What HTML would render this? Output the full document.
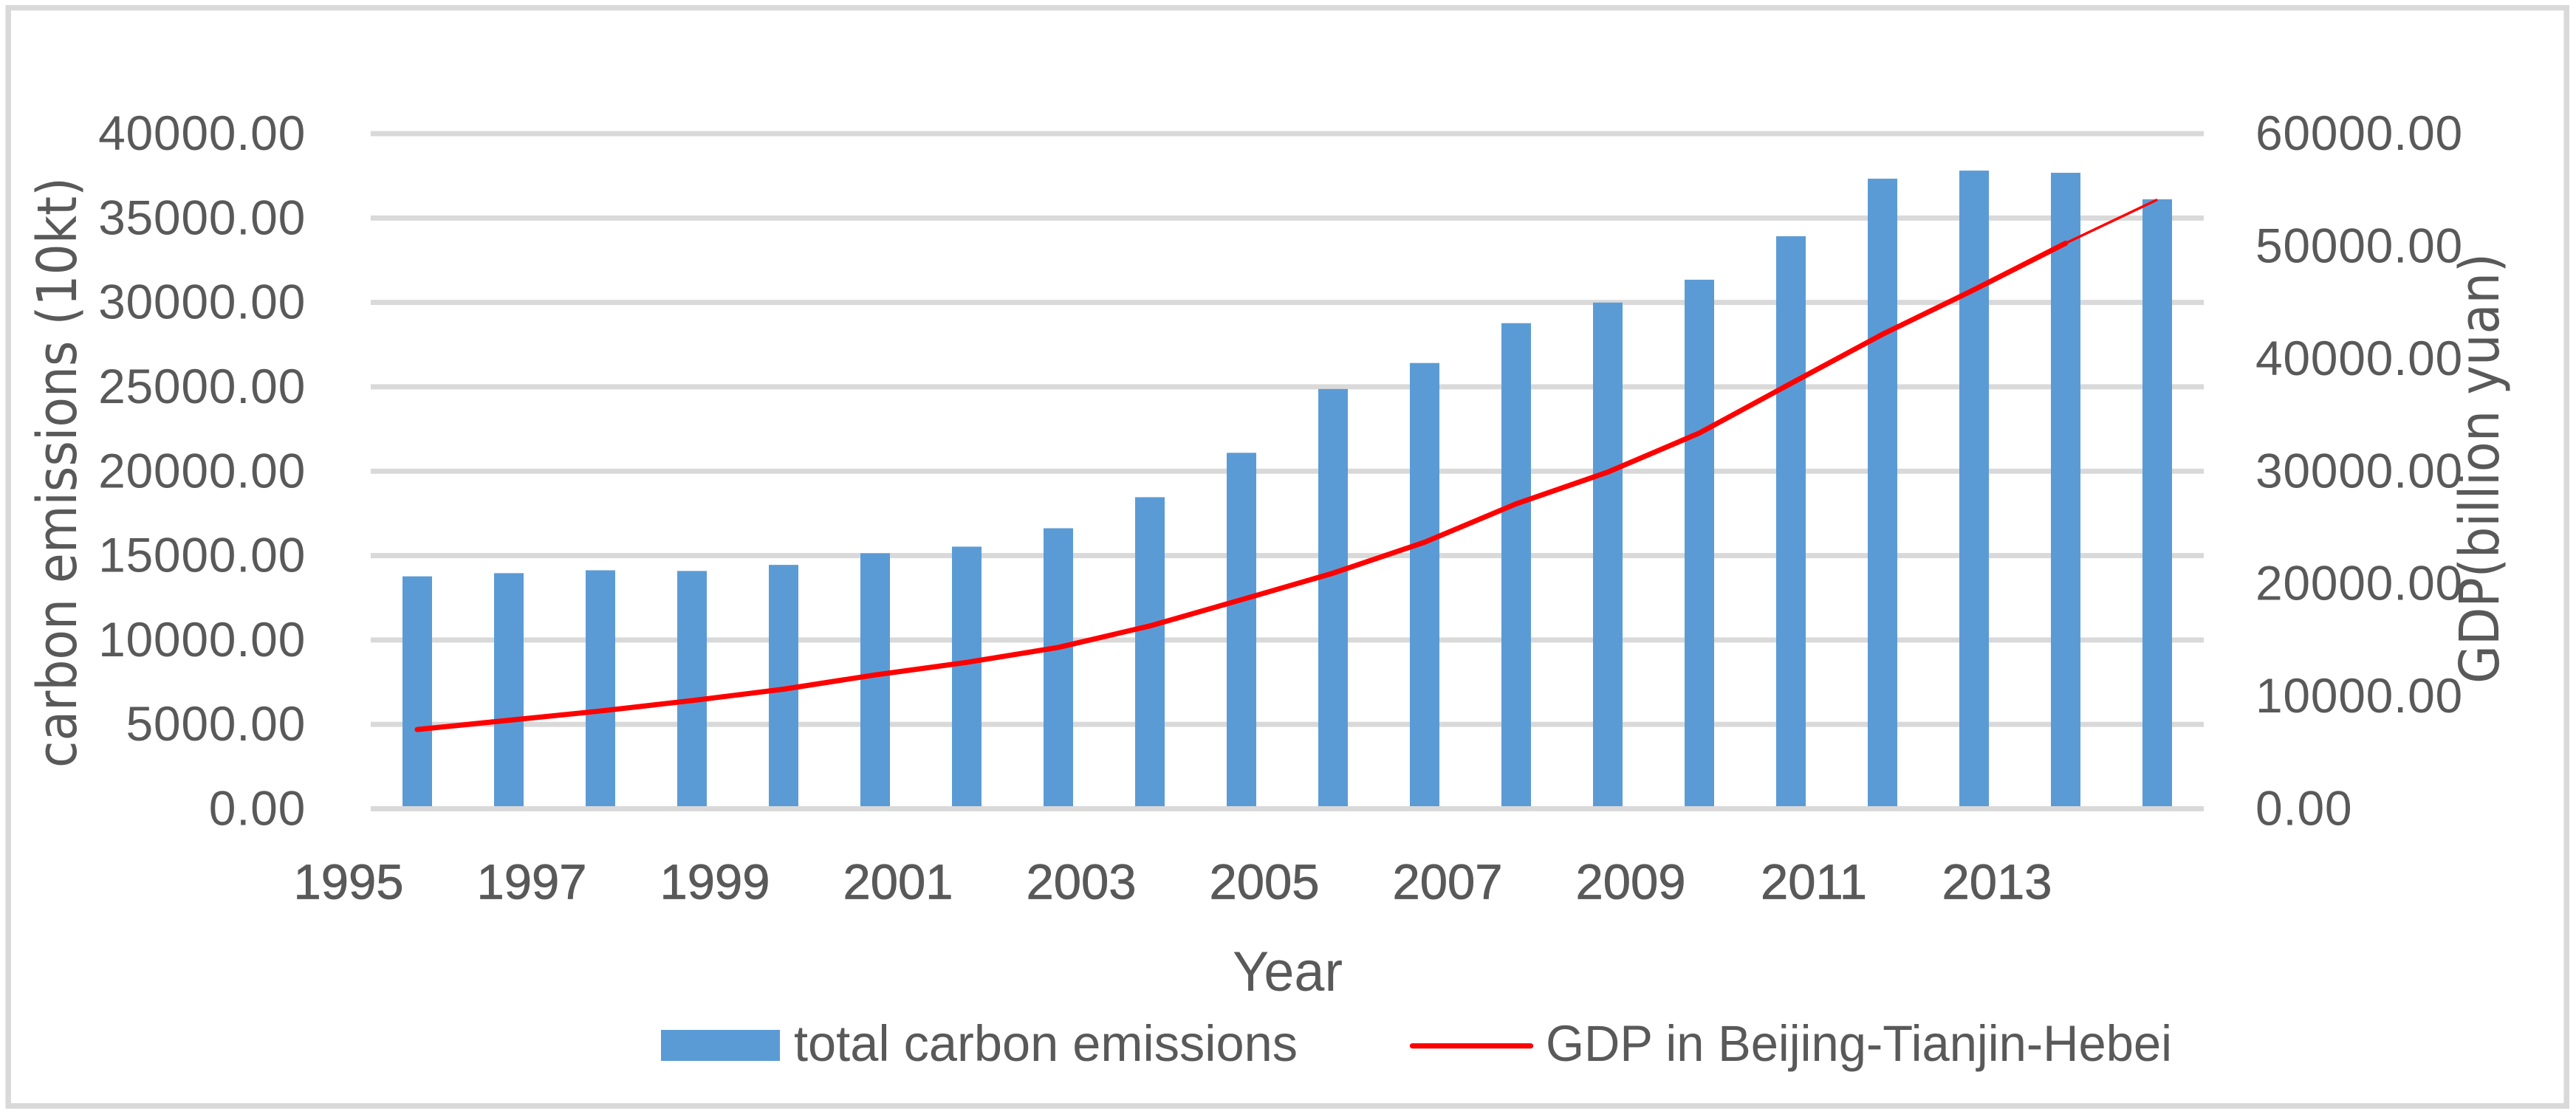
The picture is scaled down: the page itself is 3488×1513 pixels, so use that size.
<!DOCTYPE html>
<html lang="en">
<head>
<meta charset="utf-8">
<title>Carbon emissions and GDP in Beijing-Tianjin-Hebei</title>
<style>
html,body{margin:0;padding:0;background:#fff;width:3488px;height:1513px;overflow:hidden}
svg{display:block}
text{font-family:"Liberation Sans",sans-serif;fill:#595959}
</style>
</head>
<body>
<svg id="chart" xmlns="http://www.w3.org/2000/svg" width="3488" height="1513" viewBox="0 0 3488 1513">
  <rect x="11.2" y="10.5" width="3464" height="1487.5" fill="#fff" stroke="#D9D9D9" stroke-width="7.5"/>
  <g id="grid"></g>
  <g id="bars"></g>
  <g id="baseline-layer"></g>
  <g id="line-layer"></g>
  <g id="left-ticks"></g>
  <g id="right-ticks"></g>
  <g id="x-ticks"></g>
  <text transform="translate(103,1040) rotate(-90)" font-size="74" textLength="800" lengthAdjust="spacingAndGlyphs" style="font-family:'DejaVu Sans',sans-serif">carbon emissions (10kt)</text>
  <text transform="translate(3383,926) rotate(-90)" font-size="74" textLength="583" lengthAdjust="spacingAndGlyphs" style="font-family:'DejaVu Sans',sans-serif">GDP(billion yuan)</text>
  <text x="1669" y="1342" font-size="76" textLength="149" lengthAdjust="spacingAndGlyphs">Year</text>
  <g>
    <rect x="895" y="1395" width="161" height="42" fill="#5B9BD5"/>
    <text x="1075" y="1437" font-size="69" textLength="682" lengthAdjust="spacingAndGlyphs">total carbon emissions</text>
    <line x1="1912.5" y1="1416.7" x2="2072.5" y2="1416.7" stroke="#FF0000" stroke-width="7.2" stroke-linecap="round"/>
    <text x="2093" y="1437" font-size="69" textLength="848" lengthAdjust="spacingAndGlyphs">GDP in Beijing-Tianjin-Hebei</text>
  </g>
</svg>
<script>
const years = [1995,1996,1997,1998,1999,2000,2001,2002,2003,2004,2005,2006,2007,2008,2009,2010,2011,2012,2013,2014];
const emissions = [13770,13960,14130,14090,14450,15140,15530,16620,18460,21090,24870,26410,28770,29990,31345,33920,37330,37810,37680,36110];
const gdp = [7045,7865,8690,9615,10630,11895,13010,14340,16250,18580,20940,23690,27100,29920,33390,37800,42170,46130,50260,54130];
const leftTicks = [0,5000,10000,15000,20000,25000,30000,35000,40000];
const rightTicks = [0,10000,20000,30000,40000,50000,60000];
const xTickYears = [1995,1997,1999,2001,2003,2005,2007,2009,2011,2013];

const NS = 'http://www.w3.org/2000/svg';
const plotLeft = 503, plotRight = 2983, plotTop = 181, plotBottom = 1095.5;
const leftMax = 40000, rightMax = 60000, barWidth = 40, tickShift = 93;

const xBand = (plotRight - plotLeft) / years.length;
function xAt(i) { return plotLeft + xBand * (i + 0.5); }
function yLeft(v) { return plotBottom - (v / leftMax) * (plotBottom - plotTop); }
function yRight(v) { return plotBottom - (v / rightMax) * (plotBottom - plotTop); }
function make(tag, attrs, parent) {
  const el = document.createElementNS(NS, tag);
  for (const k in attrs) el.setAttribute(k, attrs[k]);
  parent.appendChild(el);
  return el;
}

const gridG = document.getElementById('grid');
leftTicks.forEach(function (t) {
  const parent = t === 0 ? document.getElementById('baseline-layer') : gridG;
  const g = make('rect', {x: plotLeft - 1, y: yLeft(t) - 3.5, width: plotRight - plotLeft + 2, height: 7, fill: '#D9D9D9'}, parent);
  
  
});

const barsG = document.getElementById('bars');
emissions.forEach(function (v, i) {
  const y = yLeft(v);
  const b = make('rect', {x: xAt(i) - barWidth / 2, y: y, width: barWidth, height: plotBottom - y, fill: '#5B9BD5'}, barsG);
  
  
});

const lineG = document.getElementById('line-layer');
const thickPts = gdp.slice(0, gdp.length - 1).map(function (v, i) { return xAt(i) + ',' + yRight(v); }).join(' ');
const thick = make('polyline', {points: thickPts, fill: 'none', stroke: '#FF0000', 'stroke-width': 7, 'stroke-linecap': 'round', 'stroke-linejoin': 'round'}, lineG);


const lastIndex = gdp.length - 1;
const thin = make('line', {x1: xAt(lastIndex - 1), y1: yRight(gdp[lastIndex - 1]), x2: xAt(lastIndex), y2: yRight(gdp[lastIndex]), stroke: '#FF0000', 'stroke-width': 3.5}, lineG);



const leftG = document.getElementById('left-ticks');
leftTicks.forEach(function (t) {
  const el = make('text', {x: 414, y: yLeft(t) + 22, 'font-size': 66, 'text-anchor': 'end', 'letter-spacing': 0.7}, leftG);
  
  
  el.textContent = t.toFixed(2);
});
const rightG = document.getElementById('right-ticks');
rightTicks.forEach(function (t) {
  const el = make('text', {x: 3054, y: yRight(t) + 22, 'font-size': 66, 'letter-spacing': 0.7}, rightG);
  
  
  el.textContent = t.toFixed(2);
});
const xG = document.getElementById('x-ticks');
xTickYears.forEach(function (yr) {
  const el = make('text', {x: xAt(years.indexOf(yr)) - tickShift, y: 1217.5, 'font-size': 67, 'text-anchor': 'middle', stroke: '#595959', 'stroke-width': 0.8}, xG);
  
  
  el.textContent = String(yr);
});
</script>
</body>
</html>
